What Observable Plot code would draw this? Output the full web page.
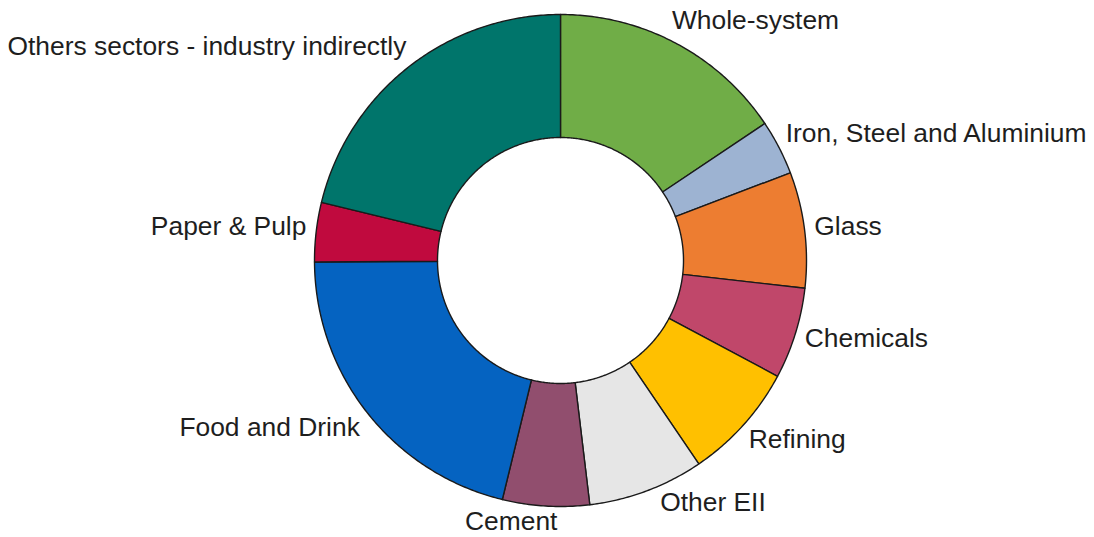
<!DOCTYPE html>
<html>
<head>
<meta charset="utf-8">
<script src="https://cdn.jsdelivr.net/npm/d3@7"></script>
<script src="https://cdn.jsdelivr.net/npm/@observablehq/plot@0.6"></script>
<style>
  html, body { margin: 0; padding: 0; background: #fff; }
  #chart svg { display: block; }
</style>
</head>
<body>
<div id="chart"></div>
<script>
const sectors = ["Whole-system", "Iron, Steel and Aluminium", "Glass", "Chemicals", "Refining", "Other EII", "Cement", "Food and Drink", "Paper & Pulp", "Others sectors - industry indirectly"];
const shares = [15.6, 3.6, 7.6, 6.0, 7.7, 7.6, 5.7, 21.1, 3.9, 21.2];
const colors = ["#70AD47", "#9DB3D2", "#ED7D31", "#C0476A", "#FFC000", "#E6E6E6", "#914E6E", "#0563C1", "#C00A3E", "#00756B"];

const W = 1094, H = 537;
const cx = 560, cy = 260, R = 246;
const inner = 0.5;

// label layout nudges in pixels [dx, dy] (screen: dy positive = down)
const nudge = {
  "Whole-system": [-9, -3],
  "Iron, Steel and Aluminium": [-2, -3],
  "Chemicals": [0, -2],
  "Refining": [-2, -1],
  "Other EII": [10, -10],
  "Cement": [-34, -7],
  "Paper & Pulp": [0, -3],
  "Others sectors - industry indirectly": [4, -3]
};

const arcs = d3.pie().sort(null).value((d, i) => shares[i])(sectors);

// polygon points for each slice (unit circle coords, y up, angle clockwise from top)
const pts = [];
arcs.forEach((a, i) => {
  const name = sectors[i];
  const n = Math.max(8, Math.ceil((a.endAngle - a.startAngle) / 0.01));
  const ring = [];
  for (let k = 0; k <= n; k++) {
    const t = a.startAngle + (a.endAngle - a.startAngle) * k / n;
    ring.push({name, x: Math.sin(t), y: Math.cos(t)});
  }
  for (let k = n; k >= 0; k--) {
    const t = a.startAngle + (a.endAngle - a.startAngle) * k / n;
    ring.push({name, x: inner * Math.sin(t), y: inner * Math.cos(t)});
  }
  ring.push({...ring[0]});
  pts.push(...ring);
});

const labels = arcs.map((a, i) => {
  const m = (a.startAngle + a.endAngle) / 2;
  const s = Math.sin(m), c = Math.cos(m);
  const [dx, dy] = nudge[sectors[i]] || [0, 0];
  return {
    name: sectors[i],
    x: 1.04 * s + dx / R,
    y: 1.093 * c - dy / R,
    anchor: s > 0.12 ? "start" : s < -0.12 ? "end" : "middle"
  };
});

const textOpts = {x: "x", y: "y", text: "name", fontSize: 26.4, fill: "#1e1e1e", lineAnchor: "middle"};

const chart = Plot.plot({
  width: W,
  height: H,
  margin: 0,
  style: {fontFamily: "'Liberation Sans', Arial, sans-serif", background: "#fff"},
  x: {domain: [-cx / R, (W - cx) / R], axis: null},
  y: {domain: [-(H - cy) / R, cy / R], axis: null},
  color: {domain: sectors, range: colors},
  marks: [
    Plot.line(pts, {x: "x", y: "y", z: "name", fill: "name", stroke: "#1a1a1a", strokeWidth: 1.4, curve: "linear"}),
    Plot.text(labels.filter(d => d.anchor === "start"), {...textOpts, textAnchor: "start"}),
    Plot.text(labels.filter(d => d.anchor === "end"), {...textOpts, textAnchor: "end"}),
    Plot.text(labels.filter(d => d.anchor === "middle"), {...textOpts, textAnchor: "middle"})
  ]
});
document.getElementById("chart").appendChild(chart);
</script>
</body>
</html>
